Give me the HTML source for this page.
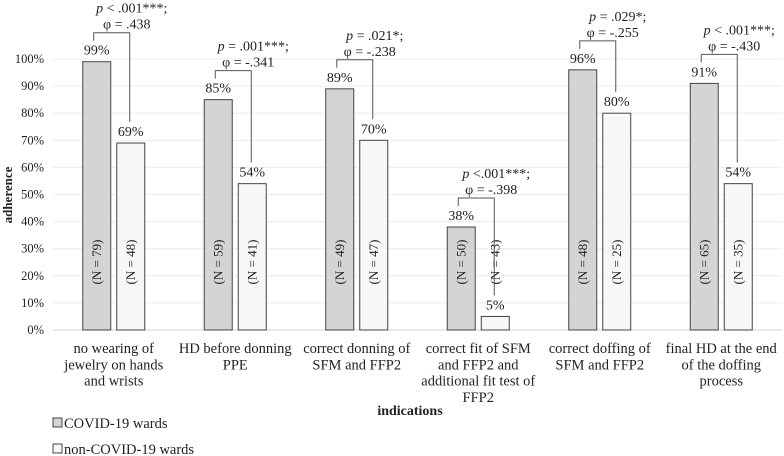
<!DOCTYPE html>
<html><head><meta charset="utf-8"><style>
html,body{margin:0;padding:0;background:#fff;}
svg{display:block;font-family:"Liberation Serif",serif;}
</style></head><body>
<svg id="c" width="784" height="456"></svg>
<script>
const categories=[["no wearing of","jewelry on hands","and wrists"],["HD before donning","PPE"],["correct donning of","SFM and FFP2"],["correct fit of SFM","and FFP2 and","additional fit test of","FFP2"],["correct doffing of","SFM and FFP2"],["final HD at the end","of the doffing","process"]];
const covidValues=[99,85,89,38,96,91];
const nonCovidValues=[69,54,70,5,80,54];
const covidN=[79,59,49,50,48,65];
const nonCovidN=[48,41,47,43,25,35];
const pLabels=["< .001***;","= .001***;","= .021*;","<.001***;","= .029*;","< .001***;"];
const phiLabels=["φ = .438","φ = -.341","φ = -.238","φ = -.398","φ = -.255","φ = -.430"];
const yTicks=[0,10,20,30,40,50,60,70,80,90,100];

const svg=document.getElementById('c');
const NS='http://www.w3.org/2000/svg';
const left=53,right=782,y0=330,y100=59;
const band=(right-left)/categories.length;
const y=v=>y0-(y0-y100)*v/100;
const bw=28,gap=6;
function mk(t,a,p){const e=document.createElementNS(NS,t);for(const k in a)e.setAttribute(k,a[k]);(p||svg).appendChild(e);return e;}

yTicks.forEach(t=>{
  const g=mk('line',{x1:left,x2:right,y1:y(t),y2:y(t),stroke:t===0?'#d0d0d0':'#ececec','stroke-width':1});
  
  
  const l=mk('text',{x:44,y:y(t)+4,'text-anchor':'end','font-size':12.5,fill:'#222'});
  l.textContent=t+'%';
  
  
});

categories.forEach((cat,i)=>{
  const cx=left+band*(i+0.5);
  const x1=cx-gap/2-bw, x2=cx+gap/2;
  const t1=y(covidValues[i]), t2=y(nonCovidValues[i]);
  const b1=mk('rect',{x:x1,y:t1,width:bw,height:y0-t1,fill:'#d4d4d4',stroke:'#444','stroke-width':1});
  
  
  const b2=mk('rect',{x:x2,y:t2,width:bw,height:y0-t2,fill:'#f7f7f7',stroke:'#444','stroke-width':1});
  
  
  [[x1,t1,covidValues[i]],[x2,t2,nonCovidValues[i]]].forEach(([x,t,v])=>{
    const l=mk('text',{x:x+bw/2,y:t-7,'text-anchor':'middle','font-size':14,fill:'#222'});
    l.textContent=v+'%';
    
    
  });
  [[x1,covidN[i]],[x2,nonCovidN[i]]].forEach(([x,n])=>{
    const l=mk('text',{'text-anchor':'middle','font-size':13,fill:'#222',transform:`translate(${x+bw/2+4},262) rotate(-90)`});
    l.textContent='(N = '+n+')';
    
    
  });
  const hy=t1-29, lx=x1+bw/2-3, rx=x2+bw/2-1;
  const br=mk('polyline',{points:`${lx},${t1-21} ${lx},${hy} ${rx},${hy} ${rx},${t2-21}`,fill:'none',stroke:'#555','stroke-width':1});
  
  
  const p=mk('text',{x:rx+2,y:hy-20,'text-anchor':'middle','font-size':14,fill:'#222'});
  const pi=mk('tspan',{'font-style':'italic'},p);pi.textContent='p ';
  const pr=mk('tspan',{},p);pr.textContent=pLabels[i];
  
  
  const f=mk('text',{x:rx-3,y:hy-4,'text-anchor':'middle','font-size':14,fill:'#222'});
  f.textContent=phiLabels[i];
  
  
  const cl=mk('text',{'text-anchor':'middle','font-size':14.5,fill:'#222'});
  
  
  cat.forEach((ln,j)=>{const ts=mk('tspan',{x:cx,y:353+j*16.3},cl);ts.textContent=ln;});
});

const yt=mk('text',{'text-anchor':'middle','font-size':13,'font-weight':'bold',fill:'#222',transform:'translate(12,195) rotate(-90)'});
yt.textContent='adherence';


const xt=mk('text',{x:410,y:415,'text-anchor':'middle','font-size':14,'font-weight':'bold',fill:'#222'});
xt.textContent='indications';


[['COVID-19 wards','#d4d4d4',428],['non-COVID-19 wards','#f7f7f7',454]].forEach(([t,c,yy])=>{
  const r=mk('rect',{x:53,y:yy-10,width:9,height:9,fill:c,stroke:'#444','stroke-width':1});
  
  
  const l=mk('text',{x:64,y:yy,'font-size':14.5,fill:'#222'});
  l.textContent=t;
  
  
});
</script>
</body></html>
